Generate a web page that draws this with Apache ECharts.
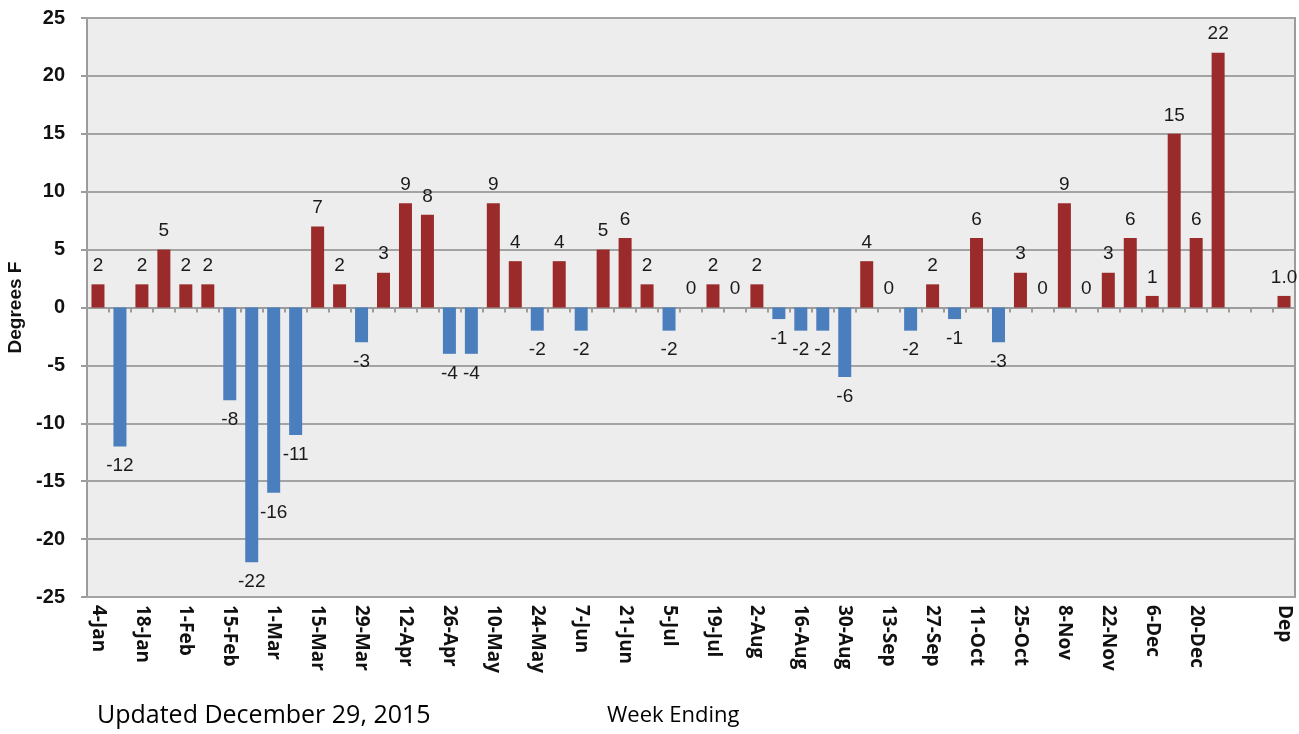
<!DOCTYPE html>
<html>
<head>
<meta charset="utf-8">
<script src="https://cdn.jsdelivr.net/npm/echarts@6/dist/echarts.min.js"></script>
<style>
  html, body { margin: 0; padding: 0; background: #fff; }
  #chart { width: 1299px; height: 734px; }
</style>
</head>
<body>
<div id="chart"></div>
<script>
// week ending dates, then a gap and the annual departure
const weeks = ['4-Jan', '11-Jan', '18-Jan', '25-Jan', '1-Feb', '8-Feb', '15-Feb', '22-Feb',
  '1-Mar', '8-Mar', '15-Mar', '22-Mar', '29-Mar', '5-Apr', '12-Apr', '19-Apr', '26-Apr',
  '3-May', '10-May', '17-May', '24-May', '31-May', '7-Jun', '14-Jun', '21-Jun', '28-Jun',
  '5-Jul', '12-Jul', '19-Jul', '26-Jul', '2-Aug', '9-Aug', '16-Aug', '23-Aug', '30-Aug',
  '6-Sep', '13-Sep', '20-Sep', '27-Sep', '4-Oct', '11-Oct', '18-Oct', '25-Oct', '1-Nov',
  '8-Nov', '15-Nov', '22-Nov', '29-Nov', '6-Dec', '13-Dec', '20-Dec', '27-Dec', '', ' ', 'Dep'];

const departures = [2, -12, 2, 5, 2, 2, -8, -22,
  -16, -11, 7, 2, -3, 3, 9, 8, -4,
  -4, 9, 4, -2, 4, -2, 5, 6, 2,
  -2, 0, 2, 0, 2, -1, -2, -2, -6,
  4, 0, -2, 2, -1, 6, -3, 3, 0,
  9, 0, 3, 6, 1, 15, 6, 22, null, null, 1.0];

const yTicks = { min: -25, max: 25, interval: 5 };

const warm = departures.map(v => (v !== null && v >= 0) ? v : null);
const cold = departures.map(v => (v !== null && v < 0) ? v : null);

const labelFont = {
  fontFamily: 'Liberation Sans, Arial, sans-serif',
  fontSize: 19,
  color: '#1a1a1a'
};

const chart = echarts.init(document.getElementById('chart'));
chart.setOption({
  animation: false,
  backgroundColor: '#ffffff',
  grid: {
    left: 87,
    right: 4,
    top: 18,
    bottom: 137,
    outerBoundsMode: 'none',
    containLabel: false,
    show: true,
    backgroundColor: '#ededed',
    borderColor: '#9c9c9c',
    borderWidth: 2
  },
  xAxis: [
    {
      type: 'category',
      data: weeks,
      axisLine: { onZero: true, lineStyle: { color: '#9c9c9c', width: 2 } },
      axisTick: { show: true, interval: 0, length: 5, lineStyle: { color: '#9c9c9c', width: 2 } },
      axisLabel: { show: false }
    },
    {
      type: 'category',
      data: weeks,
      position: 'bottom',
      axisLine: { show: false, onZero: false },
      axisTick: { show: false },
      axisLabel: {
        interval: 1,
        rotate: -90,
        margin: 8,
        fontFamily: 'Open Sans, sans-serif',
        fontWeight: 'bold',
        fontSize: 19,
        color: '#111'
      }
    }
  ],
  yAxis: {
    type: 'value',
    min: yTicks.min,
    max: yTicks.max,
    interval: yTicks.interval,
    name: 'Degrees F',
    nameLocation: 'middle',
    nameRotate: 90,
    nameGap: 60,
    nameTextStyle: {
      fontFamily: 'Liberation Sans, Arial, sans-serif',
      fontWeight: 'bold',
      fontSize: 19,
      color: '#111'
    },
    axisLine: { show: false },
    axisTick: { show: true, length: 6, lineStyle: { color: '#9c9c9c', width: 2 } },
    axisLabel: {
      margin: 22,
      fontFamily: 'Liberation Sans, Arial, sans-serif',
      fontWeight: 'bold',
      fontSize: 20,
      color: '#111'
    },
    splitLine: { lineStyle: { color: '#a3a3a3', width: 2 } }
  },
  series: [
    {
      name: 'Above',
      type: 'bar',
      stack: 'dep',
      barWidth: 13,
      data: warm,
      itemStyle: { color: '#9b2a2a' },
      label: {
        show: true,
        position: 'top',
        distance: 9,
        ...labelFont,
        formatter: p => p.name === 'Dep' ? p.value.toFixed(1) : String(p.value)
      }
    },
    {
      name: 'Below',
      type: 'bar',
      stack: 'dep',
      barWidth: 13,
      data: cold,
      itemStyle: { color: '#4a7ebd' },
      label: {
        show: true,
        position: 'bottom',
        distance: 10,
        ...labelFont
      }
    }
  ],
  graphic: [
    {
      type: 'text',
      left: 97,
      top: 703,
      style: {
        text: 'Updated December 29, 2015',
        fontFamily: 'Open Sans, sans-serif',
        fontSize: 25,
        fill: '#000'
      }
    },
    {
      type: 'text',
      left: 607,
      top: 705,
      style: {
        text: 'Week Ending',
        fontFamily: 'Open Sans, sans-serif',
        fontSize: 22,
        fill: '#000'
      }
    }
  ]
});
</script>
</body>
</html>
